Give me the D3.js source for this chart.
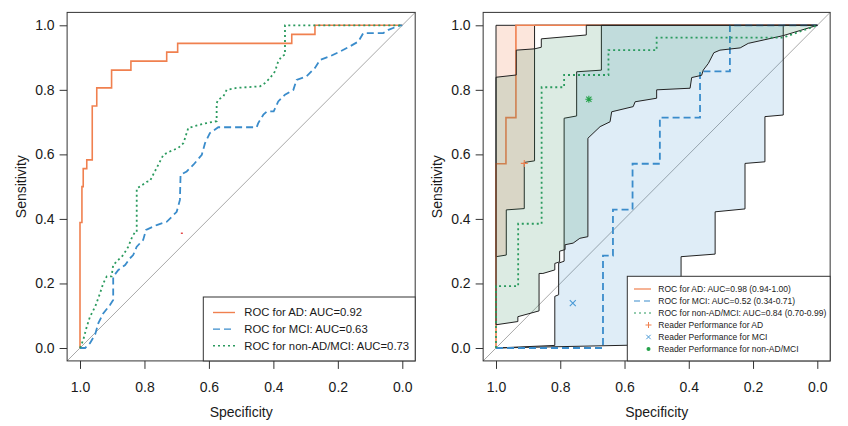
<!DOCTYPE html>
<html><head><meta charset="utf-8">
<script src="https://cdn.jsdelivr.net/npm/d3@7"></script>
<style>
body{margin:0;background:#fff}
svg{display:block}
text{font-family:"Liberation Sans",Arial,Helvetica,sans-serif;fill:#1a1a1a}
</style>
</head><body>
<svg id="c" width="848" height="426"></svg>
<script>
// ---------- data (specificity, sensitivity) ----------
const specTicks = [1.0, 0.8, 0.6, 0.4, 0.2, 0.0];
const sensTicks = [0.0, 0.2, 0.4, 0.6, 0.8, 1.0];
const xTitle = "Specificity";
const yTitle = "Sensitivity";

// Left panel ROC curves
const leftAD = [[1,0],[1,0.389],[0.994,0.389],[0.994,0.5],[0.99,0.5],[0.99,0.556],[0.979,0.556],[0.979,0.583],[0.962,0.583],[0.962,0.75],[0.948,0.75],[0.948,0.806],[0.902,0.806],[0.902,0.861],[0.842,0.861],[0.842,0.889],[0.731,0.889],[0.731,0.917],[0.697,0.917],[0.697,0.944],[0.343,0.944],[0.343,0.972],[0.271,0.972],[0.271,1.0],[0,1.0]];
const leftMCI = [[1,0],[0.984,0],[0.969,0.015],[0.953,0.042],[0.943,0.077],[0.928,0.107],[0.907,0.133],[0.897,0.149],[0.897,0.221],[0.881,0.242],[0.86,0.257],[0.845,0.278],[0.835,0.288],[0.824,0.314],[0.804,0.335],[0.795,0.366],[0.762,0.381],[0.731,0.391],[0.70,0.422],[0.69,0.459],[0.688,0.537],[0.669,0.547],[0.648,0.568],[0.622,0.599],[0.612,0.635],[0.597,0.666],[0.571,0.684],[0.452,0.684],[0.447,0.697],[0.431,0.723],[0.42,0.733],[0.399,0.733],[0.385,0.764],[0.364,0.785],[0.338,0.8],[0.328,0.831],[0.297,0.842],[0.271,0.868],[0.255,0.893],[0.224,0.904],[0.193,0.919],[0.162,0.935],[0.136,0.95],[0.121,0.976],[0.059,0.976],[0.043,0.986],[0.007,1.0],[0,1.0]];
const leftNonAD = [[1,0],[0.99,0.025],[0.979,0.066],[0.969,0.097],[0.953,0.128],[0.938,0.169],[0.928,0.2],[0.917,0.222],[0.902,0.222],[0.897,0.257],[0.881,0.273],[0.866,0.288],[0.85,0.314],[0.84,0.34],[0.829,0.36],[0.824,0.36],[0.824,0.495],[0.814,0.5],[0.793,0.515],[0.783,0.517],[0.773,0.537],[0.757,0.568],[0.741,0.599],[0.721,0.609],[0.695,0.62],[0.679,0.635],[0.664,0.682],[0.628,0.692],[0.607,0.697],[0.576,0.703],[0.576,0.759],[0.571,0.769],[0.555,0.78],[0.545,0.8],[0.514,0.806],[0.441,0.811],[0.426,0.821],[0.41,0.837],[0.395,0.857],[0.385,0.888],[0.374,0.904],[0.364,0.909],[0.364,1.0],[0,1.0]];
const leftMark = [[0.684,0.356]];
const leftLegend = ["ROC for AD: AUC=0.92","ROC for MCI: AUC=0.63","ROC for non-AD/MCI: AUC=0.73"];

// Right panel ROC curves
const rightAD = [[1,0],[1,0.571],[0.969,0.571],[0.969,0.714],[0.938,0.714],[0.938,1.0],[0,1.0]];
const rightMCI = [[1,0],[0.667,0],[0.667,0.286],[0.636,0.286],[0.636,0.429],[0.575,0.429],[0.575,0.571],[0.49,0.571],[0.49,0.714],[0.365,0.714],[0.365,0.857],[0.272,0.857],[0.272,1.0],[0,1.0]];
const rightNonAD = [[1,0],[1,0.192],[0.931,0.192],[0.931,0.385],[0.858,0.385],[0.858,0.808],[0.788,0.808],[0.788,0.846],[0.65,0.846],[0.65,0.923],[0.5,0.923],[0.5,0.962],[0.106,0.962],[0,1.0]];

// Right panel confidence bands (upper / lower sensitivity bound)
const bandADUpper = [[1,1],[0,1]];
const bandADLower = [[1,0.283],[0.968,0.288],[0.968,0.428],[0.912,0.432],[0.912,0.575],[0.88,0.58],[0.88,1.0],[0,1.0]];
const bandMCIUpper = [[1,0],[0.817,0.008],[0.817,0.16],[0.805,0.165],[0.805,0.263],[0.788,0.269],[0.788,0.712],[0.749,0.719],[0.749,0.856],[0.672,0.861],[0.672,1.0],[0,1.0]];
const bandMCILower = [[1,0],[0.424,0.012],[0.424,0.283],[0.318,0.291],[0.318,0.422],[0.225,0.431],[0.225,0.572],[0.163,0.577],[0.163,0.717],[0.106,0.722],[0.106,1.0],[0,1.0]];
const bandNonUpper = [[1,0.839],[0.937,0.846],[0.937,0.923],[0.88,0.927],[0.859,0.932],[0.859,0.958],[0.719,0.970],[0.719,1.0],[0,1.0]];
const bandNonLower = [[1,0.072],[0.932,0.082],[0.932,0.097],[0.866,0.115],[0.866,0.231],[0.854,0.231],[0.817,0.242],[0.817,0.262],[0.802,0.267],[0.802,0.30],[0.785,0.305],[0.785,0.32],[0.76,0.325],[0.739,0.34],[0.714,0.345],[0.714,0.65],[0.676,0.686],[0.645,0.701],[0.64,0.732],[0.573,0.748],[0.567,0.763],[0.5,0.774],[0.5,0.8],[0.396,0.805],[0.391,0.838],[0.36,0.845],[0.355,0.861],[0.339,0.882],[0.322,0.915],[0.303,0.923],[0.24,0.93],[0.215,0.944],[0.106,0.968],[0,1.0]];

// Reader performance points
const readerAD = [[0.912,0.572]];
const readerMCI = [[0.761,0.139]];
const readerNon = [[0.711,0.771]];
const rightLegend = ["ROC for AD: AUC=0.98 (0.94-1.00)","ROC for MCI: AUC=0.52 (0.34-0.71)","ROC for non-AD/MCI: AUC=0.84 (0.70-0.99)","Reader Performance for AD","Reader Performance for MCI","Reader Performance for non-AD/MCI"];

// ---------- drawing ----------
const COL = {ad:"#F0804F", mci:"#3A8CCB", non:"#2A9A5E"};
const FONT = '"Liberation Sans",Arial,Helvetica,sans-serif';
const svg = d3.select("#c");

function makePanel(x0, x1) {
  const x = d3.scaleLinear().domain([1,0]).range([x0, x1]);
  const y = d3.scaleLinear().domain([0,1]).range([348, 25.3]);
  const g = svg.append("g");
  const L = x(1.04), R = x(-0.04), T = y(1.04), B = y(-0.04);
  g.append("line").attr("x1",L).attr("y1",B).attr("x2",R).attr("y2",T)
    .attr("stroke","#a8a8a8").attr("stroke-width",1);
  const axB = g.append("g").attr("transform",`translate(0,${B})`)
    .call(d3.axisBottom(x).tickValues(specTicks).tickFormat(d3.format(".1f")).tickSize(8).tickPadding(13));
  const axL = g.append("g").attr("transform",`translate(${L},0)`)
    .call(d3.axisLeft(y).tickValues(sensTicks).tickFormat(d3.format(".1f")).tickSize(7.5).tickPadding(5));
  [axB, axL].forEach(a => {
    a.select(".domain").remove();
    a.attr("font-family", FONT).attr("font-size", 14);
    a.selectAll("line").attr("stroke","#333");
    a.selectAll("text").attr("fill","#1a1a1a");
  });
  g.append("text").attr("x",(x(1)+x(0))/2).attr("y",417).attr("text-anchor","middle")
    .attr("font-size",14).text(xTitle);
  g.append("text").attr("transform",`translate(${L-41},${(y(0)+y(1))/2}) rotate(-90)`)
    .attr("text-anchor","middle").attr("font-size",14).text(yTitle);
  const plot = g.append("g");
  const box = () => g.append("rect").attr("x",L).attr("y",T).attr("width",R-L).attr("height",B-T)
    .attr("fill","none").attr("stroke","#333").attr("stroke-width",1);
  return {x, y, g, plot, L, R, T, B, box};
}

function curve(p, data, color, dash, w) {
  const line = d3.line().x(d=>p.x(d[0])).y(d=>p.y(d[1]));
  p.plot.append("path").attr("d", line(data)).attr("fill","none")
    .attr("stroke",color).attr("stroke-width",w||1.6)
    .attr("stroke-dasharray", dash||null);
}
function band(p, upper, lower, color, op) {
  const pts = upper.concat(lower.slice().reverse());
  const line = d3.line().x(d=>p.x(d[0])).y(d=>p.y(d[1]));
  p.plot.append("path").attr("d", line(pts)+"Z").attr("fill",color).attr("fill-opacity",op)
    .attr("stroke","#222").attr("stroke-width",1);
}
const SYM = {
  plus:"M-3.5,0H3.5M0,-3.5V3.5",
  cross:"M-3,-3L3,3M-3,3L3,-3",
  star:"M-3.5,0H3.5M0,-3.5V3.5M-2.6,-2.6L2.6,2.6M-2.6,2.6L2.6,-2.6"
};

// ---- Left panel ----
const P1 = makePanel(80, 402.3);
curve(P1, leftAD, COL.ad, null, 1.6);
curve(P1, leftMCI, COL.mci, "7,4", 1.8);
curve(P1, leftNonAD, COL.non, "2,3", 1.8);
P1.plot.selectAll("rect.mk").data(leftMark).join("rect").attr("class","mk")
  .attr("x",d=>P1.x(d[0])-1).attr("y",d=>P1.y(d[1])-0.5).attr("width",2).attr("height",1.2).attr("fill","#d22");
P1.box();
{
  const lg = P1.g.append("g");
  const lx = 203.3, ly = 297;
  lg.append("rect").attr("x",lx).attr("y",ly).attr("width",P1.R-lx).attr("height",P1.B-ly)
    .attr("fill","#fff").attr("stroke","#333").attr("stroke-width",1);
  const styles = [[COL.ad,null],[COL.mci,"7,4"],[COL.non,"2,3"]];
  leftLegend.forEach((t,i)=>{
    const yy = 312.5 + i*16.6;
    lg.append("line").attr("x1",213).attr("x2",235).attr("y1",yy).attr("y2",yy)
      .attr("stroke",styles[i][0]).attr("stroke-width",1.4).attr("stroke-dasharray",styles[i][1]);
    lg.append("text").attr("x",244.3).attr("y",yy).attr("dy","0.35em").attr("font-size",11.3).attr("fill","#222").text(t);
  });
}

// ---- Right panel ----
const P2 = makePanel(496, 817.3);
band(P2, bandADUpper, bandADLower, COL.ad, 0.2);
curve(P2, rightAD, COL.ad, null, 1.6);
band(P2, bandMCIUpper, bandMCILower, COL.mci, 0.16);
curve(P2, rightMCI, COL.mci, "7,4", 1.8);
band(P2, bandNonUpper, bandNonLower, "#2E8B57", 0.17);
curve(P2, rightNonAD, COL.non, "2,3", 1.8);
const pts = [[readerAD, COL.ad, SYM.plus],[readerMCI, "#4a9ad6", SYM.cross],[readerNon, "#25a24a", SYM.star]];
pts.forEach(([d,c,s])=>{
  P2.plot.selectAll(null).data(d).join("path")
    .attr("transform",e=>`translate(${P2.x(e[0])},${P2.y(e[1])})`)
    .attr("d",s).attr("stroke",c).attr("stroke-width",1.1).attr("fill","none");
});
P2.box();
{
  const lg = P2.g.append("g");
  const lx = 627.3, ly = 276.3;
  lg.append("rect").attr("x",lx).attr("y",ly).attr("width",P2.R-lx).attr("height",P2.B-ly)
    .attr("fill","#fff").attr("stroke","#333").attr("stroke-width",1);
  const styles = [[COL.ad,null],[COL.mci,"6,4"],[COL.non,"2,3"]];
  rightLegend.forEach((t,i)=>{
    const yy = 289 + i*12;
    if (i < 3) {
      lg.append("line").attr("x1",634).attr("x2",651).attr("y1",yy).attr("y2",yy)
        .attr("stroke",styles[i][0]).attr("stroke-width",1.2).attr("stroke-dasharray",styles[i][1]);
    } else if (i === 3) {
      lg.append("path").attr("transform",`translate(648.5,${yy})`).attr("d","M-3,0H3M0,-3V3").attr("stroke",COL.ad).attr("stroke-width",1);
    } else if (i === 4) {
      lg.append("path").attr("transform",`translate(648.5,${yy})`).attr("d","M-2.2,-2.2L2.2,2.2M-2.2,2.2L2.2,-2.2").attr("stroke","#4a9ad6").attr("stroke-width",1);
    } else {
      lg.append("circle").attr("cx",648.5).attr("cy",yy).attr("r",2).attr("fill","#25a24a");
    }
    lg.append("text").attr("x",658.3).attr("y",yy).attr("dy","0.35em").attr("font-size",8.5).attr("fill","#222").text(t);
  });
}
</script>
</body></html>
